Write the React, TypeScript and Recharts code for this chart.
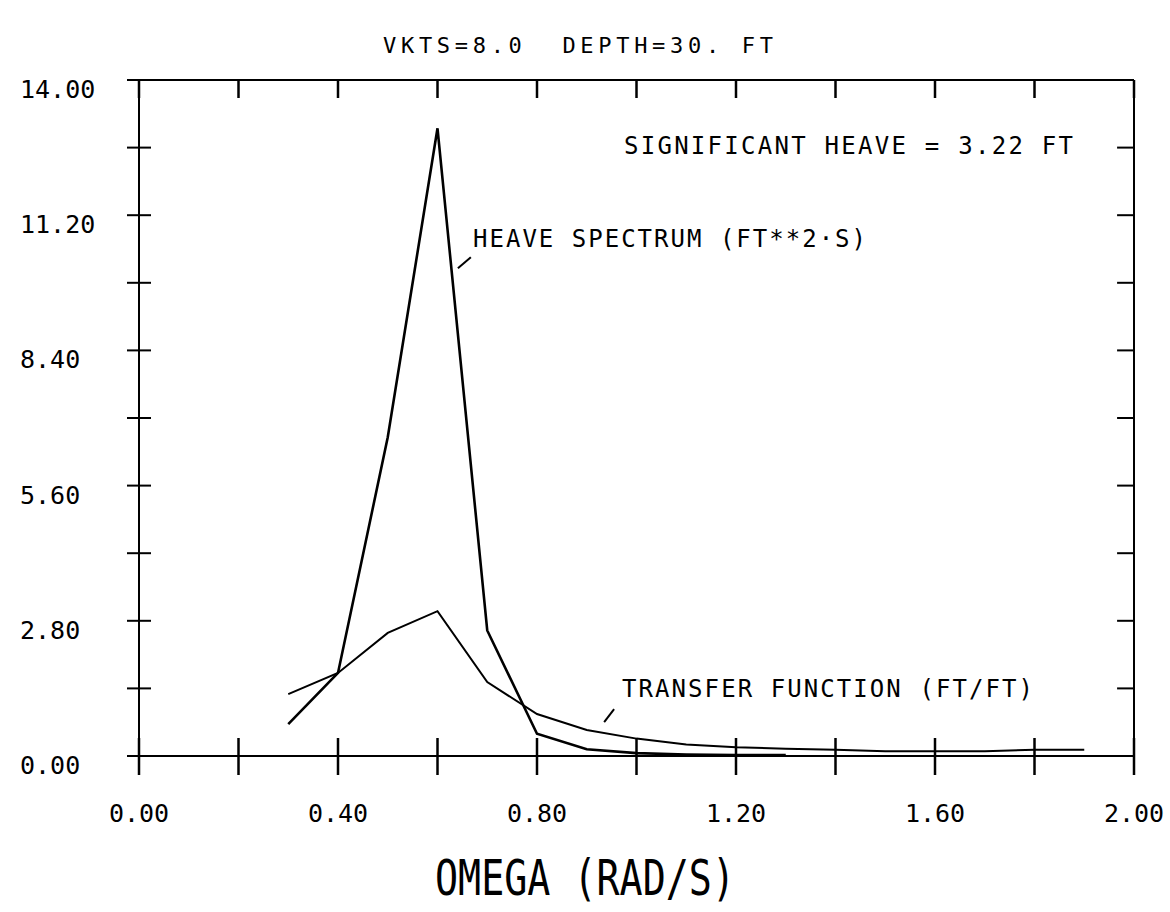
import { LineChart, Line, XAxis, YAxis, ReferenceLine } from 'recharts';

// omega (rad/s) sample points and the two curves
const omega = [0.3, 0.4, 0.5, 0.6, 0.7, 0.8, 0.9, 1.0, 1.1, 1.2, 1.3, 1.4, 1.5, 1.6, 1.7, 1.8, 1.9];
const heaveSpectrum = [0.66, 1.72, 6.6, 13.0, 2.6, 0.46, 0.14, 0.06, 0.03, 0.02, 0.02, null, null, null, null, null, null];
const transferFunction = [1.28, 1.72, 2.55, 3.0, 1.53, 0.87, 0.54, 0.36, 0.24, 0.18, 0.15, 0.13, 0.1, 0.1, 0.1, 0.13, 0.13];

const xTicks = [0, 0.2, 0.4, 0.6, 0.8, 1.0, 1.2, 1.4, 1.6, 1.8, 2.0];
const xLabelTicks = [0, 0.4, 0.8, 1.2, 1.6, 2.0];
const yTicks = [0, 1.4, 2.8, 4.2, 5.6, 7.0, 8.4, 9.8, 11.2, 12.6, 14.0];
const yLabelTicks = [0, 2.8, 5.6, 8.4, 11.2, 14.0];

// annotation pointer segments (data coords)
const heavePointer = [{ x: 0.641, y: 10.1 }, { x: 0.667, y: 10.33 }];
const transferPointer = [{ x: 0.935, y: 0.7 }, { x: 0.955, y: 0.97 }];

const data = omega.map((w, i) => ({
    omega: w,
    heave: heaveSpectrum[i],
    transfer: transferFunction[i],
}));

const FONT = '"DejaVu Sans Mono", monospace';
const hasLabel = (list: number[], v: number) => list.some((t) => Math.abs(t - v) < 1e-6);

const BottomTick = (props: any) => {
    const { x, y, payload } = props;
    return (
        <g>
            <line x1={x} x2={x} y1={y - 18} y2={y + 19} stroke="#000" strokeWidth={2.5} />
            {hasLabel(xLabelTicks, payload.value) && (
                <text x={x} y={y + 66} textAnchor="middle" fontFamily={FONT} fontSize={25} fill="#000">
                    {payload.value.toFixed(2)}
                </text>
            )}
        </g>
    );
};

// top axis: ticks point down into the plot
const TopTick = (props: any) => {
    const { x, y } = props;
    return <line x1={x} x2={x} y1={y} y2={y + 18} stroke="#000" strokeWidth={2.5} />;
};

const LeftTick = (props: any) => {
    const { x, y, payload } = props;
    return (
        <g>
            <line x1={x - 12} x2={x + 12} y1={y} y2={y} stroke="#000" strokeWidth={2} />
            {hasLabel(yLabelTicks, payload.value) && (
                <text x={x - 119} y={y + 18} textAnchor="start" fontFamily={FONT} fontSize={25} fill="#000">
                    {payload.value.toFixed(2)}
                </text>
            )}
        </g>
    );
};

export default function App() {
    return (
        <div style={{ position: 'absolute', left: 0, top: 0, width: 1170, height: 912, background: '#fff' }}>
            <LineChart width={1170} height={912} data={data} margin={{ top: 79, right: 35, bottom: 0, left: 0 }}>
                <XAxis
                    xAxisId="b"
                    dataKey="omega"
                    type="number"
                    domain={[0, 2]}
                    ticks={xTicks}
                    interval={0}
                    height={156}
                    tickSize={0}
                    tickMargin={0}
                    axisLine={{ stroke: '#000', strokeWidth: 2 }}
                    tick={<BottomTick />}
                />
                <XAxis
                    xAxisId="t"
                    orientation="top"
                    dataKey="omega"
                    type="number"
                    domain={[0, 2]}
                    ticks={xTicks}
                    interval={0}
                    height={1}
                    tickSize={0}
                    tickMargin={0}
                    axisLine={{ stroke: '#000', strokeWidth: 2 }}
                    tick={<TopTick />}
                />
                <YAxis
                    yAxisId="l"
                    type="number"
                    domain={[0, 14]}
                    ticks={yTicks}
                    interval={0}
                    width={139}
                    tickSize={0}
                    tickMargin={0}
                    axisLine={{ stroke: '#000', strokeWidth: 2 }}
                    tick={<LeftTick />}
                />
                <YAxis
                    yAxisId="r"
                    orientation="right"
                    type="number"
                    domain={[0, 14]}
                    width={1}
                    tick={false}
                    tickLine={false}
                    axisLine={{ stroke: '#000', strokeWidth: 2 }}
                />
                {/* right-hand frame ticks, pointing into the plot */}
                {yTicks.map((t) => (
                    <ReferenceLine
                        key={`rt${t}`}
                        xAxisId="b"
                        yAxisId="l"
                        segment={[{ x: 1.966, y: t }, { x: 2, y: t }]}
                        stroke="#000"
                        strokeWidth={2}
                        ifOverflow="visible"
                    />
                ))}
                <Line
                    xAxisId="b"
                    yAxisId="l"
                    type="linear"
                    dataKey="transfer"
                    stroke="#000"
                    strokeWidth={2}
                    dot={false}
                    isAnimationActive={false}
                />
                <Line
                    xAxisId="b"
                    yAxisId="l"
                    type="linear"
                    dataKey="heave"
                    stroke="#000"
                    strokeWidth={2.6}
                    dot={false}
                    connectNulls={false}
                    isAnimationActive={false}
                />
                <ReferenceLine xAxisId="b" yAxisId="l" segment={heavePointer} stroke="#000" strokeWidth={2} ifOverflow="visible" />
                <ReferenceLine xAxisId="b" yAxisId="l" segment={transferPointer} stroke="#000" strokeWidth={2} ifOverflow="visible" />
            </LineChart>
            <svg
                width={1170}
                height={912}
                style={{ position: 'absolute', left: 0, top: 0, pointerEvents: 'none' }}
                fontFamily={FONT}
            >
                <text x={383} y={53} fontSize={22} textLength={390} lengthAdjust="spacing" style={{ whiteSpace: 'pre' }}>
                    {'VKTS=8.0  DEPTH=30. FT'}
                </text>
                <text x={624} y={154} fontSize={24} textLength={449} lengthAdjust="spacing">
                    SIGNIFICANT HEAVE = 3.22 FT
                </text>
                <text x={473} y={247} fontSize={24} textLength={393} lengthAdjust="spacing">
                    HEAVE SPECTRUM (FT**2·S)
                </text>
                <text x={622} y={697} fontSize={24} textLength={411} lengthAdjust="spacing">
                    TRANSFER FUNCTION (FT/FT)
                </text>
                <text x={435} y={895} fontSize={50} textLength={300} lengthAdjust="spacingAndGlyphs" style={{ whiteSpace: 'pre' }}>
                    OMEGA (RAD/S)
                </text>
            </svg>
        </div>
    );
}
